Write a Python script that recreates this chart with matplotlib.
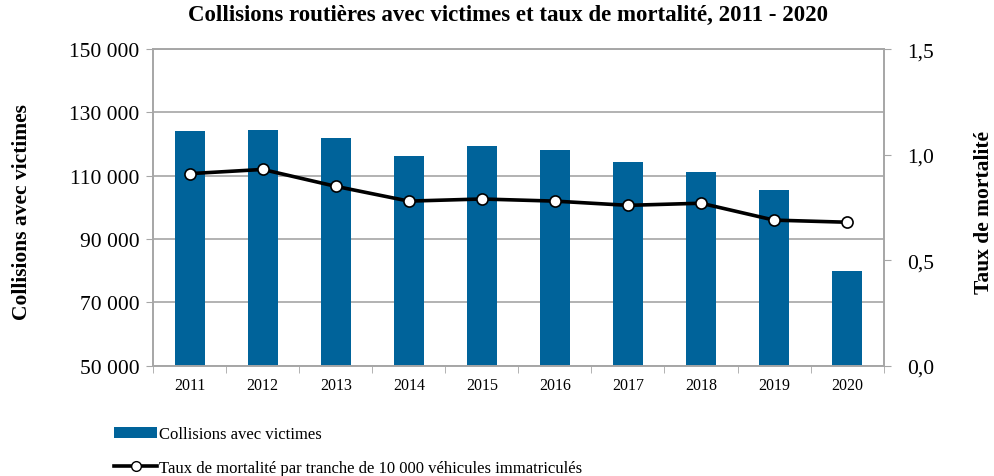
import matplotlib
matplotlib.use("Agg")
import matplotlib.pyplot as plt
from matplotlib.ticker import FuncFormatter, MultipleLocator, FixedLocator
from matplotlib.lines import Line2D
from matplotlib.patches import Patch

years = ["2011", "2012", "2013", "2014", "2015", "2016", "2017", "2018", "2019", "2020"]
collisions = [124000, 124600, 121900, 116200, 119300, 118100, 114300, 111300, 105600, 79900]
taux = [0.91, 0.93, 0.85, 0.78, 0.79, 0.78, 0.76, 0.77, 0.69, 0.68]

plt.rcParams['font.family'] = ['Liberation Serif', 'DejaVu Serif']

bar_color = '#00639a'
grid_color = '#a6a6a6'

fig = plt.figure(figsize=(9.94, 4.77), dpi=100)
ax = fig.add_axes([0.154, 0.231, 0.735, 0.664])
ax2 = ax.twinx()

x = list(range(len(years)))
ax.bar(x, collisions, width=0.41, color=bar_color, zorder=2)
ax.set_ylim(50000, 150000)
ax.set_xlim(-0.5, len(years) - 0.5)
ax.set_yticks(range(50000, 150001, 20000))
ax.yaxis.set_major_formatter(FuncFormatter(lambda v, p: f"{int(v):,}".replace(",", " ")))
ax.grid(axis='y', color=grid_color, linewidth=1.2, zorder=0)
ax.set_axisbelow(True)
ax.set_xticks(x)
ax.set_xticklabels(years, fontsize=11.5)
ax.xaxis.set_minor_locator(FixedLocator([i - 0.5 for i in range(len(years) + 1)]))
ax.tick_params(axis='x', which='major', length=0, pad=8)
ax.tick_params(axis='x', which='minor', length=5, color=grid_color, direction='out')
ax.tick_params(axis='y', length=5, color=grid_color, labelsize=15.5, pad=5)
for s in ax.spines.values():
    s.set_color(grid_color)
    s.set_linewidth(1.2)

ax2.plot(x, taux, color='black', linewidth=2.6, marker='o', markersize=8,
         markerfacecolor='white', markeredgecolor='black', markeredgewidth=1.2, zorder=3)
ax2.set_ylim(0, 1.5)
ax2.yaxis.set_major_locator(MultipleLocator(0.5))
ax2.yaxis.set_major_formatter(FuncFormatter(lambda v, p: f"{v:.1f}".replace(".", ",")))
ax2.tick_params(axis='y', length=5, color=grid_color, labelsize=15.5, pad=12)
for s in ax2.spines.values():
    s.set_color(grid_color)
    s.set_linewidth(1.2)

fig.text(0.022, 0.555, "Collisions avec victimes", rotation=90, fontsize=15.5,
         fontweight='bold', ha='center', va='center')
fig.text(0.99, 0.555, "Taux de mortalité", rotation=90, fontsize=15.5,
         fontweight='bold', ha='center', va='center')
fig.suptitle("Collisions routières avec victimes et taux de mortalité, 2011 - 2020",
             fontsize=16.5, fontweight='bold', x=0.511, y=0.99)

handles = [Patch(facecolor=bar_color, edgecolor='none'),
           Line2D([0], [0], color='black', linewidth=2.6, marker='o', markersize=7,
                  markerfacecolor='white', markeredgecolor='black')]
labels = ["Collisions avec victimes",
          "Taux de mortalité par tranche de 10 000 véhicules immatriculés"]
fig.legend(handles, labels, loc='upper left', bbox_to_anchor=(0.108, 0.118),
           frameon=False, fontsize=12, handlelength=2.6, handleheight=0.7,
           handletextpad=0.1, labelspacing=1.05, borderaxespad=0)

fig.savefig("out.png", dpi=100)
